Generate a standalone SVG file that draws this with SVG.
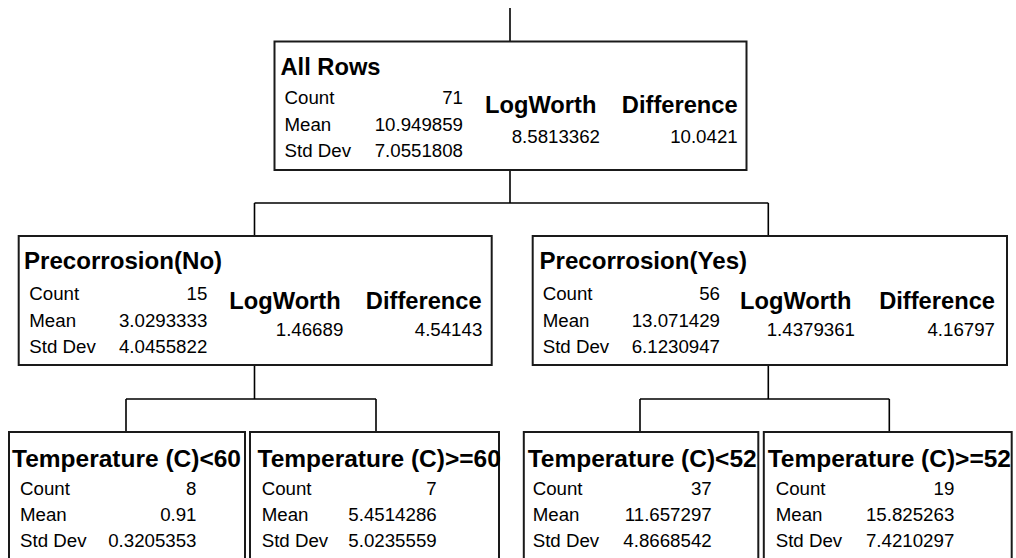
<svg xmlns="http://www.w3.org/2000/svg" width="1016" height="558" viewBox="0 0 1016 558">
<style>
.box{fill:#fff;stroke:#1a1a1a;stroke-width:2}
.c{fill:none;stroke:#000;stroke-width:1.6}
text{font-family:"Liberation Sans",Arial,sans-serif;fill:#000}
.h{font-size:23.7px;font-weight:bold}
.p{font-size:24.1px}
.b{font-size:24.5px}
.t{font-size:18.7px}
.r{text-anchor:end}
</style>
<rect width="1016" height="558" fill="#fff"/>
<g id="connectors">
<path class="c" d="M510,8V41.5M510,170V203M254.5,203H768.3M254.5,203V236M768.3,203V236"/>
<path class="c" d="M254.5,365V399M126,399H376M126,399V432M376,399V432"/>
<path class="c" d="M768.3,365V399M640,399H889.3M640,399V432M889.3,399V432"/>
</g>
<g id="all-rows">
<rect class="box" x="274.5" y="41.5" width="472" height="128.5"/>
<text class="h" x="280.5" y="75">All Rows</text>
<text class="t" x="284.5" y="104.3">Count</text>
<text class="t" x="284.5" y="130.7">Mean</text>
<text class="t" x="284.5" y="157">Std Dev</text>
<text class="t r" x="463" y="104.3">71</text>
<text class="t r" x="463" y="130.7">10.949859</text>
<text class="t r" x="463" y="157">7.0551808</text>
<text class="h" x="485" y="113.3">LogWorth</text>
<text class="t r" x="600" y="143.3">8.5813362</text>
<text class="h r" x="737.7" y="113.3">Difference</text>
<text class="t r" x="737.7" y="143.3">10.0421</text>
</g>
<g id="precorrosion-no">
<rect class="box" x="18.7" y="236" width="473" height="129"/>
<text class="h p" x="24" y="269.3">Precorrosion(No)</text>
<text class="t" x="29.3" y="300">Count</text>
<text class="t" x="29.3" y="326.7">Mean</text>
<text class="t" x="29.3" y="353.3">Std Dev</text>
<text class="t r" x="207.3" y="300">15</text>
<text class="t r" x="207.3" y="326.7">3.0293333</text>
<text class="t r" x="207.3" y="353.3">4.0455822</text>
<text class="h" x="229.3" y="308.7">LogWorth</text>
<text class="t r" x="343.3" y="336">1.46689</text>
<text class="h r" x="481.7" y="308.7">Difference</text>
<text class="t r" x="482.3" y="336">4.54143</text>
</g>
<g id="precorrosion-yes">
<rect class="box" x="532.7" y="236" width="474.3" height="129"/>
<text class="h p" x="539.5" y="269.3">Precorrosion(Yes)</text>
<text class="t" x="542.7" y="300">Count</text>
<text class="t" x="542.7" y="326.7">Mean</text>
<text class="t" x="542.7" y="353.3">Std Dev</text>
<text class="t r" x="720" y="300">56</text>
<text class="t r" x="720" y="326.7">13.071429</text>
<text class="t r" x="720" y="353.3">6.1230947</text>
<text class="h" x="740" y="308.7">LogWorth</text>
<text class="t r" x="855" y="336">1.4379361</text>
<text class="h r" x="995" y="308.7">Difference</text>
<text class="t r" x="995" y="336">4.16797</text>
</g>
<g id="temp-lt-60">
<rect class="box" x="9" y="432" width="236" height="140"/>
<text class="h b" x="12" y="467.3">Temperature (C)&lt;60</text>
<text class="t" x="20" y="495">Count</text>
<text class="t" x="20" y="521">Mean</text>
<text class="t" x="20" y="547">Std Dev</text>
<text class="t r" x="196.5" y="495">8</text>
<text class="t r" x="196.5" y="521">0.91</text>
<text class="t r" x="196.5" y="547">0.3205353</text>
</g>
<g id="temp-ge-60">
<rect class="box" x="250" y="432" width="249" height="140"/>
<text class="h b" x="257.5" y="467.3">Temperature (C)&gt;=60</text>
<text class="t" x="261.7" y="495">Count</text>
<text class="t" x="261.7" y="521">Mean</text>
<text class="t" x="261.7" y="547">Std Dev</text>
<text class="t r" x="436.7" y="495">7</text>
<text class="t r" x="436.7" y="521">5.4514286</text>
<text class="t r" x="436.7" y="547">5.0235559</text>
</g>
<g id="temp-lt-52">
<rect class="box" x="523.8" y="432" width="234.5" height="140"/>
<text class="h b" x="527.7" y="467.3">Temperature (C)&lt;52</text>
<text class="t" x="532.7" y="495">Count</text>
<text class="t" x="532.7" y="521">Mean</text>
<text class="t" x="532.7" y="547">Std Dev</text>
<text class="t r" x="711.7" y="495">37</text>
<text class="t r" x="711.7" y="521">11.657297</text>
<text class="t r" x="711.7" y="547">4.8668542</text>
</g>
<g id="temp-ge-52">
<rect class="box" x="763.8" y="432" width="247.9" height="140"/>
<text class="h b" x="767.7" y="467.3">Temperature (C)&gt;=52</text>
<text class="t" x="775.7" y="495">Count</text>
<text class="t" x="775.7" y="521">Mean</text>
<text class="t" x="775.7" y="547">Std Dev</text>
<text class="t r" x="954.3" y="495">19</text>
<text class="t r" x="954.3" y="521">15.825263</text>
<text class="t r" x="954.3" y="547">7.4210297</text>
</g>
</svg>
